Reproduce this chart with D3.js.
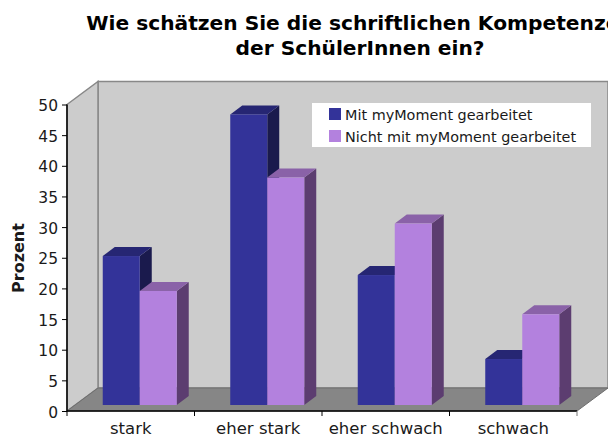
<!DOCTYPE html>
<html>
<head>
<meta charset="utf-8">
<script src="https://cdn.jsdelivr.net/npm/d3@7"></script>
<style>
body { margin: 0; background: #fff; }
text { font-family: "DejaVu Sans", sans-serif; fill: #1a1a1a; }
</style>
</head>
<body>
<div id="chart"></div>
<script>
var categories = ["stark", "eher stark", "eher schwach", "schwach"];
var seriesNames = ["Mit myMoment gearbeitet", "Nicht mit myMoment gearbeitet"];
var mitValues = [24.3, 47.4, 21.2, 7.5];
var nichtValues = [18.6, 37.1, 29.6, 14.8];
var yTicks = [0, 5, 10, 15, 20, 25, 30, 35, 40, 45, 50];
var titleLines = ["Wie schätzen Sie die schriftlichen Kompetenzen", "der SchülerInnen ein?"];

var width = 608, height = 437;
var margin = {left: 67, right: 31, top: 104.5, bottom: 26};
var depthX = 31, depthY = 23;     // wall depth
var barDepthX = 12, barDepthY = 9;
var barShiftX = 9, barShiftY = 6; // bars stand a bit inside the floor

var svg = d3.select("#chart").append("svg")
    .attr("width", width)
    .attr("height", height)
    .style("display", "block");

var x = d3.scaleBand().domain(categories).range([margin.left, width - margin.right]);
var y = d3.scaleLinear().domain([0, 50]).range([height - margin.bottom, margin.top]);
var series = d3.scaleBand().domain(seriesNames).range([0, 74]);

var x0 = margin.left, x1 = width - margin.right, y0 = y(0), y1 = y(50);

function poly(points) {
    return d3.line()(points) + "Z";
}

// walls and floor
svg.append("path")
    .attr("d", poly([[x0 + depthX, y1 - depthY], [x1 + depthX, y1 - depthY], [x1 + depthX, y0 - depthY], [x0 + depthX, y0 - depthY]]))
    .attr("fill", "#cccccc").attr("stroke", "#888888").attr("stroke-width", 1.5);
svg.append("path")
    .attr("d", poly([[x0, y1], [x0 + depthX, y1 - depthY], [x0 + depthX, y0 - depthY], [x0, y0]]))
    .attr("fill", "#cccccc").attr("stroke", "#888888").attr("stroke-width", 1.5);
svg.append("path")
    .attr("d", poly([[x0, y0], [x0 + depthX, y0 - depthY], [x1 + depthX, y0 - depthY], [x1, y0]]))
    .attr("fill", "#868686").attr("stroke", "#6e6e6e").attr("stroke-width", 1);

// bars
var barData = [];
categories.forEach(function (c, i) {
    barData.push({cat: c, name: seriesNames[0], value: mitValues[i], front: "#333399", top: "#262673", side: "#1a1a4d"});
    barData.push({cat: c, name: seriesNames[1], value: nichtValues[i], front: "#b381de", top: "#8a62a8", side: "#5c3d70"});
});

var groupWidth = series.range()[1];
var bars = svg.selectAll("g.bar")
    .data(barData)
    .enter()
    .append("g")
    .attr("class", "bar");

function barLeft(d) {
    return x(d.cat) + (x.bandwidth() - groupWidth) / 2 + barShiftX + series(d.name);
}
function barBase() {
    return y(0) - barShiftY;
}
function barTop(d) {
    return barBase() - (y(0) - y(d.value));
}

bars.append("path")
    .attr("fill", d => d.side)
    .attr("d", function (d) {
        var r = barLeft(d) + series.bandwidth();
        return poly([[r, barTop(d)], [r + barDepthX, barTop(d) - barDepthY], [r + barDepthX, barBase() - barDepthY], [r, barBase()]]);
    });
bars.append("path")
    .attr("fill", d => d.top)
    .attr("d", function (d) {
        var l = barLeft(d), r = l + series.bandwidth();
        return poly([[l, barTop(d)], [l + barDepthX, barTop(d) - barDepthY], [r + barDepthX, barTop(d) - barDepthY], [r, barTop(d)]]);
    });
bars.append("rect")
    .attr("fill", d => d.front)
    .attr("x", barLeft)
    .attr("y", barTop)
    .attr("width", series.bandwidth())
    .attr("height", d => barBase() - barTop(d));

// axes
var yAxis = d3.axisLeft(y).tickValues(yTicks).tickSize(5).tickPadding(4);
var yG = svg.append("g").attr("transform", "translate(" + x0 + ",0)").call(yAxis);
yG.select(".domain").attr("stroke", "#000").attr("stroke-width", 1.5).attr("d", "M0," + y1 + "V" + y0);
yG.selectAll("text").style("font-size", "15.5px").attr("fill", "#1a1a1a").attr("dy", "0.39em");

var xAxis = d3.axisBottom(x).tickSize(0).tickPadding(11);
var xG = svg.append("g").attr("transform", "translate(0," + y0 + ")").call(xAxis);
xG.select(".domain").attr("stroke", "#000").attr("stroke-width", 1.5).attr("d", "M" + x0 + ",0H" + x1);
xG.selectAll("text").style("font-size", "16.5px").attr("fill", "#1a1a1a");

// tick marks between the categories
svg.selectAll("line.sep")
    .data(categories.concat(["end"]))
    .enter()
    .append("line")
    .attr("class", "sep")
    .attr("x1", (d, i) => i < 4 ? x(d) : x1)
    .attr("x2", (d, i) => i < 4 ? x(d) : x1)
    .attr("y1", y0)
    .attr("y2", y0 + 5)
    .attr("stroke", (d, i) => i < 4 ? "#000" : "#777");

// y axis title
svg.append("text")
    .attr("transform", "translate(24,258) rotate(-90)")
    .attr("text-anchor", "middle")
    .style("font-size", "16px")
    .style("font-weight", "bold")
    .text("Prozent");

// title
svg.selectAll("text.title")
    .data(titleLines)
    .enter()
    .append("text")
    .attr("class", "title")
    .attr("x", 360)
    .attr("y", (d, i) => 30 + i * 25)
    .attr("text-anchor", "middle")
    .style("font-size", "20.2px")
    .style("font-weight", "bold")
    .style("fill", "#000")
    .text(d => d);

// legend
var legend = svg.append("g");
legend.append("rect").attr("x", 312).attr("y", 103).attr("width", 279).attr("height", 44).attr("fill", "#fff");
var colors = ["#333399", "#b381de"];
seriesNames.forEach(function (name, i) {
    legend.append("rect").attr("x", 329).attr("y", 108 + i * 22).attr("width", 12).attr("height", 12).attr("fill", colors[i]);
    legend.append("text").attr("x", 345).attr("y", 120 + i * 22).style("font-size", "14.4px").text(name);
});
</script>
</body>
</html>
